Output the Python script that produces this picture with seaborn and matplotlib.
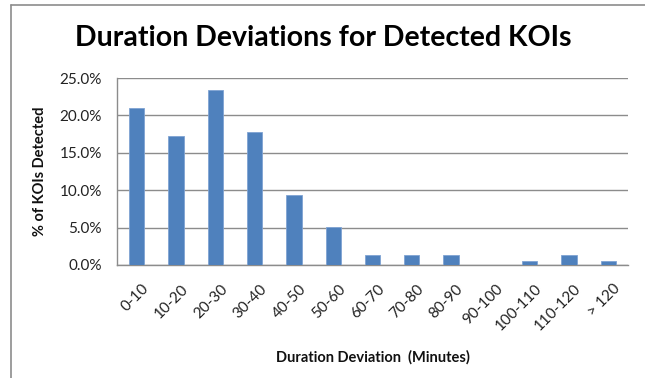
import matplotlib
matplotlib.use("Agg")
import matplotlib.pyplot as plt
from matplotlib.lines import Line2D
from matplotlib.ticker import PercentFormatter
from matplotlib.transforms import ScaledTranslation
import seaborn as sns
import pandas as pd

categories = ["0-10", "10-20", "20-30", "30-40", "40-50", "50-60", "60-70",
              "70-80", "80-90", "90-100", "100-110", "110-120", "> 120"]
pct_detected = [21.0, 17.3, 23.4, 17.8, 9.3, 5.1, 1.3, 1.3, 1.3, 0.0, 0.6, 1.3, 0.6]
y_ticks = [0, 5, 10, 15, 20, 25]

df = pd.DataFrame({"bin": categories, "pct": pct_detected})

sns.set_theme(style="white")
plt.rcParams["font.family"] = ["Lato", "DejaVu Sans"]

W, H = 645, 378
fig = plt.figure(figsize=(W / 100, H / 100), dpi=100)
ax = fig.add_axes([117 / W, 1 - 265 / H, (628 - 117) / W, (265 - 78) / H])

sns.barplot(data=df, x="bin", y="pct", color="#4F81BD", width=0.39,
            saturation=1, edgecolor="#7FA3D3", linewidth=0.6, ax=ax, zorder=3)

ax.set_ylim(0, 25)
ax.set_xlim(-0.5, len(categories) - 0.5)
ax.set_yticks(y_ticks)
ax.yaxis.set_major_formatter(PercentFormatter(decimals=1))
ax.grid(axis="y", color="#8C8C8C", linewidth=1.0, zorder=0)
ax.set_axisbelow(True)

for side in ["top", "right"]:
    ax.spines[side].set_visible(False)
for side in ["left", "bottom"]:
    ax.spines[side].set_color("#8C8C8C")
    ax.spines[side].set_linewidth(1.0)

ax.tick_params(axis="y", length=0, labelsize=11, colors="#222222", pad=11)
ax.tick_params(axis="x", length=0, labelsize=11, colors="#222222", pad=12)
shift = ScaledTranslation(5 / 100, 0, fig.dpi_scale_trans)
for lbl in ax.get_xticklabels():
    lbl.set_rotation(45)
    lbl.set_ha("right")
    lbl.set_va("top")
    lbl.set_rotation_mode("anchor")
    lbl.set_transform(lbl.get_transform() + shift)

ax.set_xlabel("Duration Deviation  (Minutes)", fontsize=10.5, fontweight="bold",
              color="#111111", labelpad=12)
ax.set_ylabel("% of KOIs Detected", fontsize=10.5, fontweight="bold",
              color="#111111", labelpad=9)

fig.text(323 / W, 1 - 38 / H, "Duration Deviations for Detected KOIs",
         ha="center", va="center", fontsize=20.5, fontweight="bold", color="#000000")

# chart frame along the top and left edges
fig.add_artist(Line2D([11 / W, 1], [1 - 5 / H, 1 - 5 / H], color="#8C8C8C", lw=1.2))
fig.add_artist(Line2D([11 / W, 11 / W], [0, 1 - 5 / H], color="#8C8C8C", lw=1.2))

fig.savefig("out.png", dpi=100, facecolor="white")
